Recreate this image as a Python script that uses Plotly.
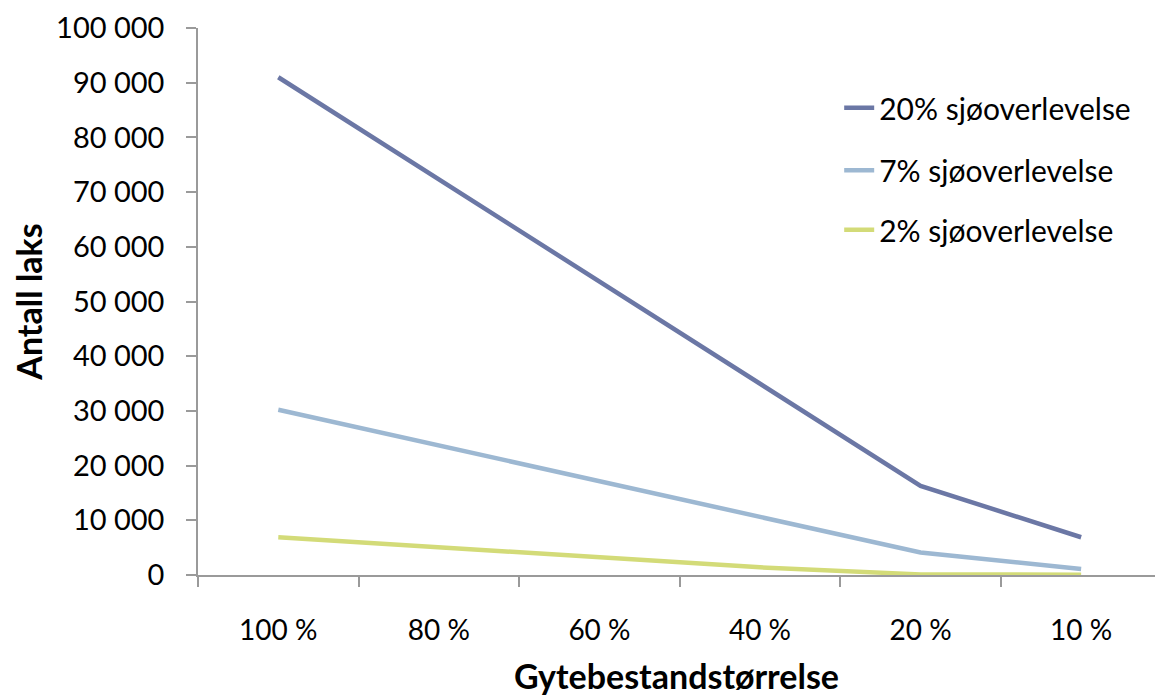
import plotly.graph_objects as go

# Spawning stock size categories (x axis)
categories = ["100 %", "80 %", "60 %", "40 %", "20 %", "10 %"]

# Number of salmon for three levels of marine survival
survival_20 = [91000, 72300, 53600, 35000, 16300, 6900]
survival_7 = [30200, 23700, 17300, 10600, 4100, 1100]
survival_2 = [6900, 5100, 3300, 1400, 100, 50]

series_names = ["20% sjøoverlevelse", "7% sjøoverlevelse", "2% sjøoverlevelse"]
series_colors = ["#6b77a5", "#9db8d2", "#d3db78"]

FONT = "Lato"

fig = go.Figure()
for i, (name, values, color) in enumerate(
    zip(series_names, [survival_20, survival_7, survival_2], series_colors)
):
    fig.add_trace(
        go.Scatter(
            x=categories,
            y=values,
            mode="lines",
            name=name,
            showlegend=True,
            line=dict(color=color, width=4.5),
            legend="legend" if i == 0 else f"legend{i + 1}",
        )
    )

legend_common = dict(
    xanchor="left",
    yanchor="middle",
    bgcolor="rgba(0,0,0,0)",
    font=dict(family=FONT, size=30, color="#000000"),
    itemwidth=30,
    tracegroupgap=0,
)

fig.update_layout(
    width=1155,
    height=696,
    margin=dict(l=198, r=0, t=28, b=121),
    paper_bgcolor="white",
    plot_bgcolor="white",
    showlegend=True,
    separators=", ",
    font=dict(family=FONT, color="#000000"),
    legend=dict(x=0.670, y=0.854, **legend_common),
    legend2=dict(x=0.670, y=0.740, **legend_common),
    legend3=dict(x=0.670, y=0.631, **legend_common),
    xaxis=dict(
        type="category",
        range=[-0.5, 5.46],
        showline=True,
        linecolor="#9a9a9a",
        linewidth=1.5,
        ticks="outside",
        tickson="boundaries",
        ticklen=10,
        tickcolor="#9a9a9a",
        tickwidth=1.5,
        showgrid=False,
        zeroline=False,
        tickfont=dict(family=FONT, size=28),
        ticklabelstandoff=30,
        title=dict(
            text="<b>Gytebestandstørrelse</b>",
            font=dict(family=FONT, size=34),
            standoff=25,
        ),
    ),
    yaxis=dict(
        range=[0, 100000],
        dtick=10000,
        tickformat=",d",
        showline=True,
        linecolor="#9a9a9a",
        linewidth=1.5,
        ticks="outside",
        ticklen=10,
        tickcolor="#9a9a9a",
        tickwidth=1.5,
        showgrid=False,
        zeroline=False,
        tickfont=dict(family=FONT, size=29),
        ticklabelstandoff=16,
        title=dict(
            text="<b>Antall laks</b>",
            font=dict(family=FONT, size=34),
            standoff=3,
        ),
    ),
)

fig.write_html("out.html")
